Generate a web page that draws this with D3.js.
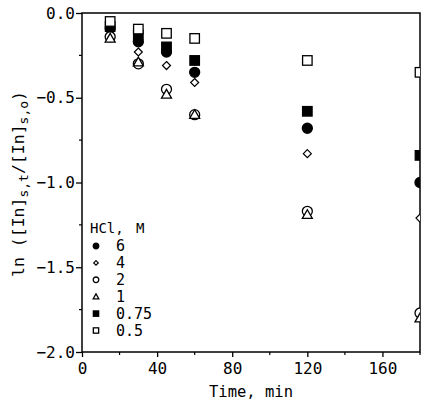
<!DOCTYPE html>
<meta charset="utf-8">
<style>
body{margin:0;background:#fff;}
svg text{font-family:"DejaVu Sans Mono",monospace;fill:#000;}
</style>
<svg id="chart" width="425" height="400"></svg>
<script src="https://d3js.org/d3.v7.min.js"></script>
<script>
// time points, min
const times = [15, 30, 45, 60, 120, 180]
// ln([In]s,t/[In]s,o) for each HCl concentration
const hcl6   = [-0.09, -0.17, -0.23, -0.35, -0.68, -1.00]
const hcl4   = [-0.13, -0.23, -0.31, -0.41, -0.83, -1.21]
const hcl2   = [-0.14, -0.30, -0.45, -0.60, -1.17, -1.77]
const hcl1   = [-0.15, -0.29, -0.48, -0.60, -1.19, -1.80]
const hcl075 = [-0.08, -0.13, -0.20, -0.28, -0.58, -0.84]
const hcl05  = [-0.05, -0.095, -0.12, -0.15, -0.28, -0.35]

const seriesNames = ['6', '4', '2', '1', '0.75', '0.5']
const seriesValues = [hcl6, hcl4, hcl2, hcl1, hcl075, hcl05]
const seriesShapes = ['circleFill', 'diamond', 'circle', 'triangle', 'squareFill', 'square']

const xTicks = [0, 40, 80, 120, 160]
const yTicks = [0, -0.5, -1.0, -1.5, -2.0]

const svg = d3.select('#chart')
const m = {left: 82, right: 420, top: 13, bottom: 352}

const x = d3.scaleLinear().domain([0, 180]).range([m.left, m.right])
const y = d3.scaleLinear().domain([0, -2]).range([m.top, m.bottom])

svg.append('clipPath').attr('id', 'clip')
  .append('rect')
  .attr('x', m.left).attr('y', m.top - 10)
  .attr('width', m.right - m.left).attr('height', m.bottom - m.top + 10)

// draws one marker of given shape and radius
function marker(g, shape, r) {
  if (shape === 'circleFill' || shape === 'circle') {
    g.append('circle').attr('r', r)
      .attr('fill', shape === 'circleFill' ? '#000' : '#fff')
      .attr('stroke', '#000').attr('stroke-width', 1.3)
  } else if (shape === 'squareFill' || shape === 'square') {
    g.append('rect').attr('x', -r * 0.95).attr('y', -r * 0.95)
      .attr('width', r * 1.9).attr('height', r * 1.9)
      .attr('fill', shape === 'squareFill' ? '#000' : '#fff')
      .attr('stroke', '#000').attr('stroke-width', 1.3)
  } else if (shape === 'diamond') {
    const d = r * 0.8
    g.append('path').attr('d', `M0,${-d}L${d},0L0,${d}L${-d},0Z`)
      .attr('fill', '#fff').attr('stroke', '#000').attr('stroke-width', 1.2)
  } else if (shape === 'triangle') {
    g.append('path').attr('d', `M0,${-r}L${r},${r * 0.75}L${-r},${r * 0.75}Z`)
      .attr('fill', '#fff').attr('stroke', '#000').attr('stroke-width', 1.3)
  }
}

// axes
const xAxis = d3.axisBottom(x).tickValues(xTicks).tickSize(5).tickFormat(d3.format('d'))
const gx = svg.append('g').attr('transform', `translate(0,${m.bottom})`).call(xAxis)
const yAxis = d3.axisLeft(y).tickValues(yTicks).tickSize(6).tickFormat(d3.format('.1f'))
const gy = svg.append('g').attr('transform', `translate(${m.left},0)`).call(yAxis)

// minor ticks
svg.append('g').selectAll('line').data([20, 60, 100, 140, 180]).join('line')
  .attr('x1', d => x(d)).attr('x2', d => x(d))
  .attr('y1', m.bottom).attr('y2', m.bottom + 3)
  .attr('stroke', '#000').attr('stroke-width', 1.2)
svg.append('g').selectAll('line').data([-0.25, -0.75, -1.25, -1.75]).join('line')
  .attr('x1', m.left - 3).attr('x2', m.left)
  .attr('y1', d => y(d)).attr('y2', d => y(d))
  .attr('stroke', '#000').attr('stroke-width', 1.2)

for (const g of [gx, gy]) {
  g.select('.domain').remove()
  g.selectAll('line').attr('stroke', '#000').attr('stroke-width', 1.3)
  g.selectAll('text').style('font-size', '16px').attr('fill', '#000')
}
gx.selectAll('text').attr('dy', '0.85em')
gy.selectAll('text').attr('x', -7).text(d => d3.format('.1f')(d).replace('-', '\u2212'))

// frame
svg.append('rect')
  .attr('x', m.left).attr('y', m.top)
  .attr('width', m.right - m.left).attr('height', m.bottom - m.top)
  .attr('fill', 'none').attr('stroke', '#000').attr('stroke-width', 1.5)

// data markers
const plot = svg.append('g').attr('clip-path', 'url(#clip)')
seriesValues.forEach((vals, i) => {
  vals.forEach((v, j) => {
    const g = plot.append('g').attr('transform', `translate(${x(times[j])},${y(v)})`)
    marker(g, seriesShapes[i], 5)
  })
})

// legend
const leg = svg.append('g')
leg.append('text').attr('x', 90).attr('y', 233).style('font-size', '14px')
  .text('HCl,')
leg.append('text').attr('x', 136).attr('y', 233).style('font-size', '14px')
  .text('M')
seriesNames.forEach((name, i) => {
  const cy = 246 + i * 16.9
  const g = leg.append('g').attr('transform', `translate(96,${cy})`)
  marker(g, seriesShapes[i], 2.8)
  leg.append('text').attr('x', 116).attr('y', cy + 5).style('font-size', '15px').text(name)
})

// axis titles
svg.append('text').attr('x', (m.left + m.right) / 2).attr('y', 397)
  .attr('text-anchor', 'middle').style('font-size', '15.5px').text('Time, min')

const yl = svg.append('text')
  .attr('transform', 'translate(24,184) rotate(-90)')
  .attr('text-anchor', 'middle').style('font-size', '16.5px')
yl.append('tspan').text('ln ([In]')
yl.append('tspan').attr('dy', 4).style('font-size', '13px').text('s,t')
yl.append('tspan').attr('dy', -4).text('/[In]')
yl.append('tspan').attr('dy', 4).style('font-size', '13px').text('s,o')
yl.append('tspan').attr('dy', -4).text(')')
</script>
